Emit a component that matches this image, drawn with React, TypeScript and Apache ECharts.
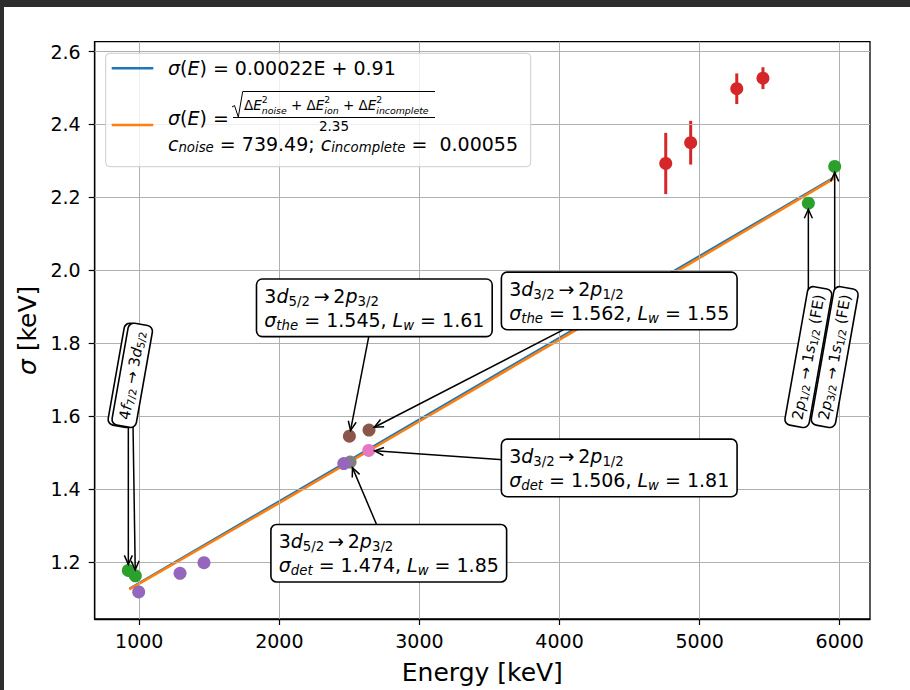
import React, { useEffect, useRef } from "react";
import * as echarts from "echarts";

const FONT = "'DejaVu Sans', sans-serif";

// Axis ticks
const xTicks = [1000, 2000, 3000, 4000, 5000, 6000];
const yTicks = [1.2, 1.4, 1.6, 1.8, 2.0, 2.2, 2.4, 2.6];

// Measured peak widths sigma [keV] vs energy [keV]
const greenE = [922, 972, 5776, 5964];
const greenSigma = [1.177, 1.162, 2.184, 2.285];

const redE = [4758, 4936, 5265, 5452];
const redSigma = [2.293, 2.35, 2.498, 2.527];
const redErr = [0.084, 0.06, 0.042, 0.03];

const purpleE = [996, 1291, 1462, 2460];
const purpleSigma = [1.118, 1.169, 1.198, 1.47];

const brownE = [2500, 2640];
const brownSigma = [1.545, 1.562];

const pinkE = [2638];
const pinkSigma = [1.506];

const grayE = [2505];
const graySigma = [1.474];

// Linear fit sigma(E) = 0.00022E + 0.91
const linFitE = [929, 5964];
const linFitSigma = [1.127, 2.256];

// Noise / ionisation / incomplete-collection model
const modelE = [929, 2000, 3000, 4000, 5000, 5964];
const modelSigma = [1.125, 1.362, 1.586, 1.81, 2.034, 2.253];

const zip = (a: number[], b: number[]) => a.map((v, i) => [v, b[i]]);

function richStyles(size: number, lh: number) {
  const base = { fontFamily: FONT, color: "#000", align: "left" as const };
  return {
    n: { ...base, fontSize: size, lineHeight: lh },
    i: { ...base, fontSize: size, lineHeight: lh, fontStyle: "italic" },
    s: { ...base, fontSize: size * 0.7, lineHeight: lh / 2, verticalAlign: "bottom" },
    si: { ...base, fontSize: size * 0.7, lineHeight: lh / 2, verticalAlign: "bottom", fontStyle: "italic" },
  };
}

type Anno = {
  text: string;
  at: [number, number];
  target: [number, number];
  rot: number;
  size: number;
  lh: number;
  pad: number[];
};

const annotations: Anno[] = [
  {
    text: "{n|3}{i|d}{s|5/2}{n|\u2009→\u20092}{i|p}{s|3/2}\n{i|σ}{si|the}{n| = 1.545, }{i|L}{si|w}{n| = 1.61}",
    at: [2678, 1.897], target: [brownE[0], brownSigma[0]], rot: 0, size: 19, lh: 24, pad: [4, 7, 4, 7],
  },
  {
    text: "{n|3}{i|d}{s|3/2}{n|\u2009→\u20092}{i|p}{s|1/2}\n{i|σ}{si|the}{n| = 1.562, }{i|L}{si|w}{n| = 1.55}",
    at: [4426, 1.916], target: [brownE[1], brownSigma[1]], rot: 0, size: 19, lh: 24, pad: [4, 7, 4, 7],
  },
  {
    text: "{n|3}{i|d}{s|3/2}{n|\u2009→\u20092}{i|p}{s|1/2}\n{i|σ}{si|det}{n| = 1.506, }{i|L}{si|w}{n| = 1.81}",
    at: [4426, 1.458], target: [pinkE[0], pinkSigma[0]], rot: 0, size: 19, lh: 24, pad: [4, 7, 4, 7],
  },
  {
    text: "{n|3}{i|d}{s|5/2}{n|\u2009→\u20092}{i|p}{s|3/2}\n{i|σ}{si|det}{n| = 1.474, }{i|L}{si|w}{n| = 1.85}",
    at: [2781, 1.224], target: [grayE[0], graySigma[0]], rot: 0, size: 19, lh: 24, pad: [4, 7, 4, 7],
  },
  {
    text: "{n|4}{i|f}{s|7/2}{n| → 3}{i|d}{s|5/2}",
    at: [922, 1.712], target: [greenE[0], greenSigma[0]], rot: 80, size: 15, lh: 17, pad: [3, 6, 3, 6],
  },
  {
    text: "{n|4}{i|f}{s|7/2}{n| → 3}{i|d}{s|5/2}",
    at: [950, 1.712], target: [greenE[1], greenSigma[1]], rot: 80, size: 15, lh: 17, pad: [3, 6, 3, 6],
  },
  {
    text: "{n|2}{i|p}{s|1/2}{n| → 1}{i|s}{s|1/2}{n| (FE)}",
    at: [greenE[2], 1.762], target: [greenE[2], greenSigma[2]], rot: 80, size: 15, lh: 17, pad: [3, 6, 3, 6],
  },
  {
    text: "{n|2}{i|p}{s|3/2}{n| → 1}{i|s}{s|1/2}{n| (FE)}",
    at: [greenE[3], 1.762], target: [greenE[3], greenSigma[3]], rot: 80, size: 15, lh: 17, pad: [3, 6, 3, 6],
  },
];

type Piece = { t: string; size: number; it?: boolean; dy?: number; stack?: boolean };

// Lays out a run of text pieces left to right; "stack" pieces share the x of the previous one
function mathRun(pieces: Piece[], x0: number, y: number, z: number) {
  const ctx = document.createElement("canvas").getContext("2d")!;
  let x = x0;
  let stackStart = x0;
  const out: any[] = [];
  for (const p of pieces) {
    ctx.font = `${p.it ? "italic " : ""}${p.size}px ${FONT}`;
    const w = ctx.measureText(p.t).width;
    const start = p.stack ? stackStart : x;
    if (!p.stack) stackStart = x;
    out.push({
      type: "text",
      z,
      x: start,
      y: y + (p.dy || 0),
      style: {
        text: p.t,
        fontSize: p.size,
        fontStyle: p.it ? "italic" : "normal",
        fontFamily: FONT,
        fill: "#000",
        align: "left",
        verticalAlign: "middle",
      },
    });
    x = p.stack ? Math.max(x, start + w) : start + w;
  }
  return out;
}

export default function App() {
  const ref = useRef<HTMLDivElement>(null);

  useEffect(() => {
    const el = ref.current!;
    const chart = echarts.init(el, null, { renderer: "svg" });

    const axisCommon = {
      type: "value" as const,
      axisLine: { show: true, lineStyle: { color: "#000", width: 1.3 } },
      splitLine: { show: false },
      nameLocation: "middle" as const,
    };

    const scatter = (e: number[], s: number[], color: string) => ({
      type: "scatter",
      data: zip(e, s),
      symbolSize: 13,
      itemStyle: { color, opacity: 1 },
      z: 5,
    });

    chart.setOption({
      animation: false,
      backgroundColor: "#fff",
      grid: {
        left: 94.7,
        top: 41.7,
        right: 40,
        bottom: 66,
        show: true,
        borderColor: "#000",
        borderWidth: 1.3,
        backgroundColor: "transparent",
      },
      xAxis: {
        ...axisCommon,
        min: 682,
        max: 6216,
        axisTick: { show: true, length: 6, lineStyle: { color: "#000", width: 1.2 }, customValues: xTicks },
        axisLabel: {
          customValues: xTicks,
          fontSize: 19,
          color: "#000",
          fontFamily: FONT,
          margin: 12,
          formatter: (v: number) => String(v),
        },
        name: "Energy [keV]",
        nameGap: 41,
        nameTextStyle: { fontSize: 25, fontFamily: FONT, color: "#000" },
      },
      yAxis: {
        ...axisCommon,
        min: 1.0437,
        max: 2.627,
        axisTick: { show: true, length: 6, lineStyle: { color: "#000", width: 1.2 }, customValues: yTicks },
        axisLabel: {
          customValues: yTicks,
          fontSize: 19,
          color: "#000",
          fontFamily: FONT,
          margin: 14,
          formatter: (v: number) => v.toFixed(1),
        },
        name: "{i|σ} [keV]",
        nameGap: 51,
        nameTextStyle: {
          fontSize: 25,
          fontFamily: FONT,
          color: "#000",
          rich: { i: { fontSize: 25, fontFamily: FONT, color: "#000", fontStyle: "italic" } },
        },
      },
      series: [
        {
          // grid lines
          type: "line",
          data: [],
          silent: true,
          z: 0,
          markLine: {
            silent: true,
            symbol: ["none", "none"],
            label: { show: false },
            lineStyle: { color: "#b0b0b0", width: 1, type: "solid" },
            emphasis: { disabled: true },
            data: [...xTicks.map((v) => ({ xAxis: v })), ...yTicks.map((v) => ({ yAxis: v }))],
          },
        },
        {
          type: "line",
          data: zip(linFitE, linFitSigma),
          symbol: "none",
          lineStyle: { color: "#1f77b4", width: 2 },
          z: 2,
        },
        {
          type: "line",
          data: zip(modelE, modelSigma),
          symbol: "none",
          lineStyle: { color: "#ff7f0e", width: 2.5 },
          z: 3,
        },
        {
          type: "custom",
          z: 4,
          data: redE.map((e, i) => [e, redSigma[i], redErr[i]]),
          encode: { x: 0, y: 1 },
          renderItem: (_p: any, api: any) => {
            const x = api.value(0);
            const y = api.value(1);
            const e = api.value(2);
            const a = api.coord([x, y - e]);
            const b = api.coord([x, y + e]);
            return {
              type: "line",
              shape: { x1: a[0], y1: a[1], x2: b[0], y2: b[1] },
              style: { stroke: "#d62728", lineWidth: 3 },
            };
          },
        },
        scatter(grayE, graySigma, "#7f7f7f"),
        scatter(brownE, brownSigma, "#8c564b"),
        scatter(pinkE, pinkSigma, "#e377c2"),
        scatter(purpleE, purpleSigma, "#9467bd"),
        scatter(greenE, greenSigma, "#2ca02c"),
        scatter(redE, redSigma, "#d62728"),
      ],
    });

    const toPx = (p: [number, number]) => chart.convertToPixel({ gridIndex: 0 }, p) as number[];

    const graphics: any[] = [];

    // annotation arrows and boxes
    annotations.forEach((a, idx) => {
      const c = toPx(a.at);
      const t = toPx(a.target);
      const dx = t[0] - c[0];
      const dy = t[1] - c[1];
      const len = Math.hypot(dx, dy);
      const ux = dx / len;
      const uy = dy / len;
      const end = [t[0] - ux * 6, t[1] - uy * 6];
      const hl = 9;
      const hw = 4;
      const bx = end[0] - ux * hl;
      const by = end[1] - uy * hl;
      graphics.push({
        type: "line",
        z: 40,
        shape: { x1: c[0], y1: c[1], x2: end[0], y2: end[1] },
        style: { stroke: "#000", lineWidth: 1.5 },
      });
      graphics.push({
        type: "polyline",
        z: 40,
        shape: {
          points: [
            [bx - uy * hw, by + ux * hw],
            end,
            [bx + uy * hw, by - ux * hw],
          ],
        },
        style: { stroke: "#000", lineWidth: 1.5, fill: "none" },
      });
      graphics.push({
        type: "text",
        z: 45 + idx,
        x: c[0],
        y: c[1],
        rotation: (a.rot * Math.PI) / 180,
        style: {
          text: a.text,
          rich: richStyles(a.size, a.lh),
          align: "center",
          verticalAlign: "middle",
          fontFamily: FONT,
          fontSize: a.size,
          backgroundColor: "#fff",
          borderColor: "#000",
          borderWidth: 1.6,
          borderRadius: 5,
          padding: a.pad,
        },
      });
    });

    // legend
    const LZ = 60;
    graphics.push({
      type: "rect",
      z: LZ,
      shape: { x: 105.7, y: 53.3, width: 425, height: 113.4, r: 4 },
      style: { fill: "rgba(255,255,255,0.8)", stroke: "#cccccc", lineWidth: 1 },
    });
    graphics.push({
      type: "line",
      z: LZ + 1,
      shape: { x1: 111.7, y1: 68.3, x2: 153.3, y2: 68.3 },
      style: { stroke: "#1f77b4", lineWidth: 2.4 },
    });
    graphics.push({
      type: "line",
      z: LZ + 1,
      shape: { x1: 111.7, y1: 125, x2: 153.3, y2: 125 },
      style: { stroke: "#ff7f0e", lineWidth: 2.4 },
    });
    graphics.push({
      type: "text",
      z: LZ + 1,
      x: 168,
      y: 68.3,
      style: {
        text: "{i|σ}{n|(}{i|E}{n|) = 0.00022E + 0.91}",
        rich: richStyles(19, 24),
        align: "left",
        verticalAlign: "middle",
      },
    });
    graphics.push({
      type: "text",
      z: LZ + 1,
      x: 168,
      y: 118,
      style: {
        text: "{i|σ}{n|(}{i|E}{n|) =}",
        rich: richStyles(19, 22),
        align: "left",
        verticalAlign: "middle",
      },
    });
    const m = 13.5;
    const sc = 9.4;
    const term = (sub: string): Piece[] => [
      { t: "Δ", size: m },
      { t: "E", size: m, it: true },
      { t: "2", size: sc, dy: -5.5 },
      { t: sub, size: sc, it: true, dy: 5, stack: true },
    ];
    graphics.push(
      ...mathRun(
        [...term("noise"), { t: " + ", size: m }, ...term("ion"), { t: " + ", size: m }, ...term("incomplete")],
        244,
        105,
        LZ + 1
      )
    );
    graphics.push({
      type: "polyline",
      z: LZ + 1,
      shape: {
        points: [
          [232, 107],
          [234.5, 105.5],
          [238.3, 117],
          [242.7, 91.5],
          [435, 91.5],
        ],
      },
      style: { stroke: "#000", lineWidth: 1, fill: "none" },
    });
    graphics.push({
      type: "line",
      z: LZ + 1,
      shape: { x1: 233, y1: 117.5, x2: 435, y2: 117.5 },
      style: { stroke: "#000", lineWidth: 1 },
    });
    graphics.push({
      type: "text",
      z: LZ + 1,
      x: 334,
      y: 125.5,
      style: { text: "2.35", fontSize: m, fontFamily: FONT, fill: "#000", align: "center", verticalAlign: "middle" },
    });
    graphics.push({
      type: "text",
      z: LZ + 1,
      x: 168,
      y: 143.5,
      style: {
        text: "{i|c}{si|noise}{n| = 739.49; }{i|c}{si|incomplete}{n| =  0.00055}",
        rich: richStyles(19, 20),
        align: "left",
        verticalAlign: "middle",
      },
    });

    // window frame strips
    graphics.push({ type: "rect", z: 100, shape: { x: 0, y: 0, width: 910, height: 7 }, style: { fill: "#2d2d2d" } });
    graphics.push({ type: "rect", z: 100, shape: { x: 0, y: 0, width: 4, height: 690 }, style: { fill: "#2d2d2d" } });

    chart.setOption({ graphic: graphics });

    return () => chart.dispose();
  }, []);

  return (
    <div
      ref={ref}
      style={{ position: "absolute", left: 0, top: 0, width: 910, height: 690, background: "#fff" }}
    />
  );
}
